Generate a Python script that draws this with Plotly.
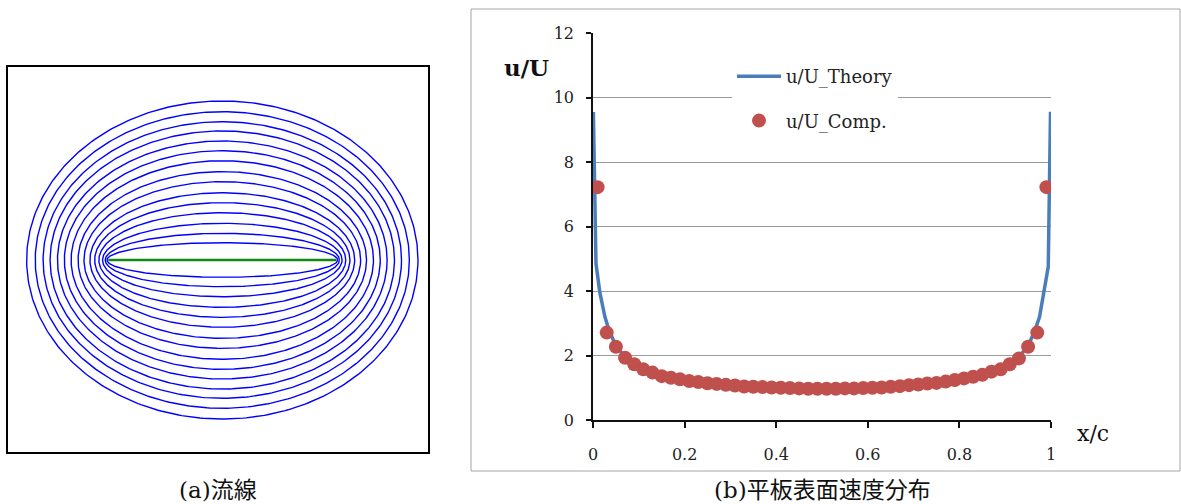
import numpy as np
import plotly.graph_objects as go

W, H = 1181, 504

# ---------------- (b) surface velocity data ----------------
theory_x = [0.0008, 0.0065, 0.015, 0.026, 0.035, 0.05, 0.07, 0.09, 0.12, 0.15, 0.2, 0.25,
            0.3, 0.35, 0.4, 0.45, 0.5, 0.55, 0.6, 0.65, 0.7, 0.75, 0.8, 0.85, 0.88, 0.91,
            0.93, 0.95, 0.965, 0.975, 0.985, 0.994, 0.9989]
theory_u = [9.55, 4.85, 3.95, 3.2, 2.78, 2.3, 1.96, 1.75, 1.55, 1.41, 1.25, 1.15,
            1.09, 1.05, 1.02, 1.00, 1.00, 1.00, 1.02, 1.05, 1.09, 1.15, 1.25, 1.41, 1.53, 1.75,
            1.96, 2.3, 2.78, 3.2, 3.95, 4.75, 9.56]

comp_x = [0.01, 0.03, 0.05, 0.07, 0.09, 0.11, 0.13, 0.15, 0.17, 0.19,
          0.21, 0.23, 0.25, 0.27, 0.29, 0.31, 0.33, 0.35, 0.37, 0.39,
          0.41, 0.43, 0.45, 0.47, 0.49, 0.51, 0.53, 0.55, 0.57, 0.59,
          0.61, 0.63, 0.65, 0.67, 0.69, 0.71, 0.73, 0.75, 0.77, 0.79,
          0.81, 0.83, 0.85, 0.87, 0.89, 0.91, 0.93, 0.95, 0.97, 0.99]
comp_u = [7.22, 2.71, 2.27, 1.93, 1.73, 1.57, 1.47, 1.36, 1.31, 1.26,
          1.21, 1.18, 1.14, 1.12, 1.09, 1.07, 1.04, 1.03, 1.02, 1.01,
          1.00, 0.99, 0.98, 0.97, 0.97, 0.97, 0.97, 0.98, 0.98, 0.99,
          1.00, 1.01, 1.03, 1.05, 1.08, 1.10, 1.13, 1.15, 1.19, 1.24,
          1.29, 1.34, 1.40, 1.50, 1.57, 1.73, 1.91, 2.27, 2.71, 7.22]

y_ticks = [0, 2, 4, 6, 8, 10, 12]
x_ticks = [0, 0.2, 0.4, 0.6, 0.8, 1]
x_tick_text = ["0", "0.2", "0.4", "0.6", "0.8", "1"]

# ---------------- (a) streamlines data (plate half-length = 1) ----------------
plate_x = [-1.0, 1.0]
plate_y = [0.0, 0.0]
stream_a = [1.0115, 1.027, 1.0506, 1.0827, 1.1194, 1.1611, 1.2133, 1.2652,
            1.3261, 1.3855, 1.4457, 1.5104, 1.5721, 1.6409, 1.7164]
stream_b = [0.152, 0.234, 0.322, 0.415, 0.503, 0.590, 0.687, 0.775,
            0.871, 0.959, 1.044, 1.132, 1.213, 1.301, 1.395]

SERIF = "DejaVu Serif"
CAP_FONT = "DejaVu Serif, Noto Sans CJK JP"

fig = go.Figure()

# left panel streamlines
t = np.linspace(0, 2 * np.pi, 400)
for a, b in zip(stream_a, stream_b):
    fig.add_trace(go.Scatter(x=a * np.cos(t), y=b * np.sin(t), mode="lines",
                             line=dict(color="#0000ff", width=1.4),
                             xaxis="x2", yaxis="y2", showlegend=False, hoverinfo="skip"))
fig.add_trace(go.Scatter(x=plate_x, y=plate_y, mode="lines",
                         line=dict(color="#118a11", width=2.5),
                         xaxis="x2", yaxis="y2", showlegend=False))

# right panel
fig.add_trace(go.Scatter(x=theory_x, y=theory_u, mode="lines", name="u/U_Theory",
                         line=dict(color="#4a7ebb", width=3.5),
                         legendgroup="a"))
fig.add_trace(go.Scatter(x=comp_x, y=comp_u, mode="markers", name="u/U_Comp.",
                         marker=dict(color="#c0504d", size=14, line=dict(width=0)),
                         legendgroup="b"))

def px(v):
    return v / W

def py(v):
    return (H - v) / H

def ann(text, x, y, size, family, color="#111"):
    return dict(text=text, x=px(x), y=py(y), xref="paper", yref="paper",
                xanchor="center", yanchor="middle", showarrow=False,
                font=dict(family=family, size=size, color=color))

fig.update_layout(
    template="none",
    width=W, height=H, autosize=False,
    margin=dict(l=0, r=0, t=0, b=0, pad=0),
    paper_bgcolor="white", plot_bgcolor="white",
    font=dict(family=SERIF, color="#222"),
    xaxis=dict(domain=[px(593), px(1051)], range=[0, 1], tickvals=x_ticks, ticktext=x_tick_text,
               showgrid=False, zeroline=False, showline=True, linecolor="#111", linewidth=1.5,
               ticks="outside", ticklen=6, tickwidth=1.5, tickcolor="#111", automargin=False,
               tickfont=dict(family=SERIF, size=16, color="#222"), ticklabelstandoff=13),
    yaxis=dict(domain=[py(420), py(33)], range=[0, 12], tickvals=y_ticks,
               showgrid=True, gridcolor="#9a9a9a", gridwidth=1.2, zeroline=False,
               showline=True, linecolor="#111", linewidth=1.5, automargin=False,
               ticks="outside", ticklen=5, tickwidth=1.5, tickcolor="#111",
               tickfont=dict(family=SERIF, size=16, color="#222"), ticklabelstandoff=9),
    xaxis2=dict(domain=[px(8), px(428)], range=[(8 - 222.3) / 114, (428 - 222.3) / 114],
                showgrid=False, zeroline=False, showticklabels=False, ticks="", automargin=False,
                showline=True, mirror=True, linecolor="#000", linewidth=2, anchor="y2"),
    yaxis2=dict(domain=[py(452), py(67)], range=[(260 - 452) / 114, (260 - 67) / 114],
                showgrid=False, zeroline=False, showticklabels=False, ticks="", automargin=False,
                showline=True, mirror=True, linecolor="#000", linewidth=2, anchor="x2"),
    legend=dict(x=px(732), y=py(58), xanchor="left", yanchor="top", bgcolor="white",
                font=dict(family=SERIF, size=18, color="#222"), tracegroupgap=18,
                itemwidth=44, borderwidth=0),
    shapes=[dict(type="rect", xref="paper", yref="paper",
                 x0=px(471), x1=px(1180), y0=py(471), y1=py(9),
                 line=dict(color="#a6a6a6", width=1), layer="below")],
    annotations=[
        ann("<b>u/U</b>", 526, 68, 23, SERIF),
        ann("x/c", 1093, 433, 22, SERIF),
        ann("(a)流線", 218, 490, 23, CAP_FONT),
        ann("(b)平板表面速度分布", 822, 490, 23, CAP_FONT),
    ],
)

fig.write_html("out.html",
               post_script="document.body.style.margin='0';document.body.style.overflow='hidden';")
